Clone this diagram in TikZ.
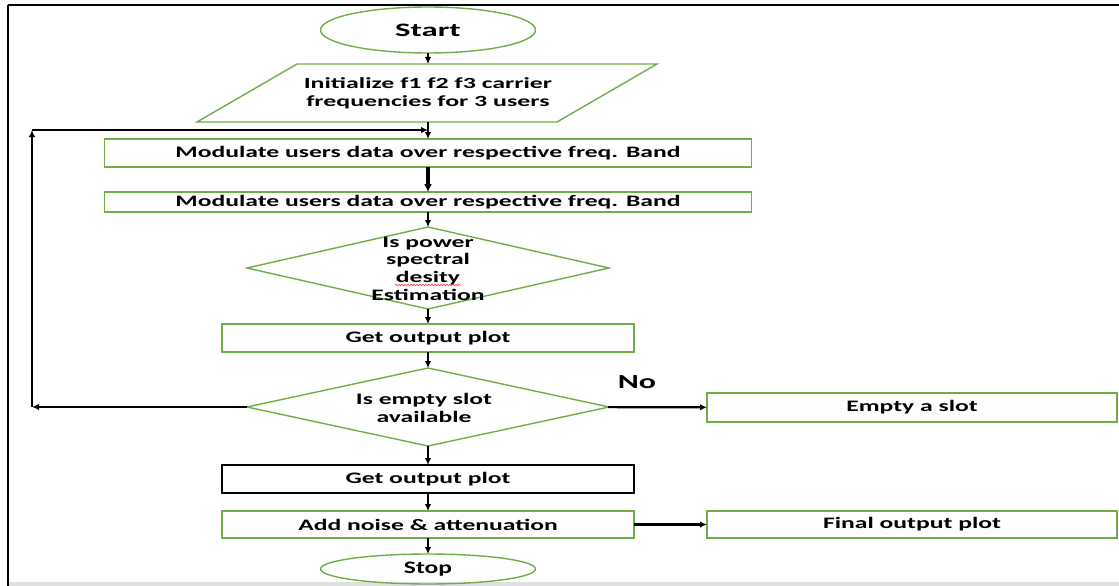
\documentclass[tikz,border=0pt]{standalone}
\usepackage{fontspec}
\usetikzlibrary{shapes.geometric,arrows.meta,decorations.pathmorphing}
% Calibri-metric face, widened for the flowchart labels
\newfontfamily\cbA{Carlito}[FakeStretch=1.6]
\newfontfamily\cbB{Carlito}[FakeStretch=1.67]
\newfontfamily\cbS{Carlito}[FakeStretch=1.72]
\newfontfamily\cbT{Carlito}[FakeStretch=1.46]
\definecolor{boxgreen}{RGB}{112,173,71}
\tikzset{
  every node/.style={inner sep=0pt, outer sep=0pt},
  lbl/.style={font=\cbA\bfseries\fontsize{16}{17.7}\selectfont, align=center},
  gbox/.style={draw=boxgreen, line width=1.4pt, rectangle, lbl},
  kbox/.style={draw=black, line width=1.4pt, rectangle, lbl},
  oval/.style={draw=boxgreen, line width=1.4pt, ellipse},
  decide/.style={draw=boxgreen, line width=1.4pt, diamond},
  arr/.style={-{Latex[length=7pt,width=6.5pt]}, line width=2.1pt, black},
  thickarr/.style={-{Latex[length=8pt,width=8pt]}, line width=3.2pt, black},
}
\begin{document}
\begin{tikzpicture}[x=1pt, y=-1pt]
  \useasboundingbox (0,0) rectangle (1119,586);
  \fill[white] (0,0) rectangle (1119,586);
  % page frame and bottom strip
  \fill[black!12] (9,582) rectangle (1119,586);
  \draw[black, line width=2.2pt] (8,5) -- (1119,5);
  \draw[black, line width=1.8pt] (8,5) -- (8,586);

  % terminals
  \node[oval, minimum width=215pt, minimum height=46pt,
        font=\cbS\bfseries\fontsize{19}{20}\selectfont] (start) at (428,30) {Start};
  \node[oval, minimum width=215pt, minimum height=30pt,
        font=\cbT\bfseries\fontsize{17.5}{18}\selectfont] (stop) at (428,569) {Stop};

  % input parallelogram
  \draw[boxgreen, line width=1.4pt] (297,64) -- (657,64) -- (557,122) -- (197,122) -- cycle;
  \node[minimum height=58pt, align=center,
        font=\cbB\bfseries\fontsize{15.5}{18}\selectfont] (init) at (428,93)
        {Initialize f1 f2 f3 carrier\\frequencies for 3 users};

  % process boxes
  \node[gbox, minimum width=647pt, minimum height=28pt] (mod1) at (428,153)
        {Modulate users data over respective freq. Band};
  \node[gbox, minimum width=647pt, minimum height=20pt] (mod2) at (428,202)
        {Modulate users data over respective freq. Band};

  % first decision
  \node[decide, minimum width=362pt, minimum height=82pt] (psd) at (428,268) {};
  \node[lbl] (psdt) at (428,268.5) {Is power\\spectral\\desity\\Estimation};
  \draw[red!80, line width=0.6pt, decorate,
        decoration={snake, amplitude=0.8pt, segment length=3pt}]
        ([xshift=-33pt,yshift=-17pt]psd.center) -- ([xshift=33pt,yshift=-17pt]psd.center);

  \node[gbox, minimum width=412pt, minimum height=28pt] (plot1) at (428,338) {Get output plot};

  % second decision
  \node[decide, minimum width=362pt, minimum height=78pt] (slot) at (428,407) {};
  \node[lbl] (slott) at (424,408) {Is empty slot\\available};
  \node[font=\cbA\bfseries\fontsize{20}{22}\selectfont] (no) at (637,382) {No};
  \node[gbox, minimum width=410pt, minimum height=29pt] (empty) at (912,407.5) {Empty a slot};

  \node[kbox, minimum width=412pt, minimum height=28pt] (plot2) at (428,479) {Get output plot};
  \node[gbox, minimum width=412pt, minimum height=27pt] (noise) at (428,524.5) {Add noise \& attenuation};
  \node[gbox, minimum width=410pt, minimum height=27pt] (final) at (912,524.5) {Final output plot};

  % main flow
  \draw[arr] (start) -- (init);
  \draw[arr] (init) -- (mod1);
  \draw[thickarr] (mod1) -- (mod2);
  \draw[arr] (mod2) -- (psd);
  \draw[arr] (psd) -- (plot1);
  \draw[arr] (plot1) -- (slot);
  \draw[arr] (slot) -- (empty);
  \draw[arr] (slot) -- (plot2);
  \draw[arr] (plot2) -- (noise);
  \draw[arr] (noise) -- (final);
  \draw[arr] (noise) -- (stop);

  % feedback loop back to modulation
  \coordinate (lc1) at (32,407);
  \coordinate (lc2) at (32,130);
  \coordinate (lj) at (428,130);
  \draw[arr] (slot.west) -- (lc1);
  \draw[arr] (lc1) -- (lc2);
  \draw[arr] (lc2) -- (lj);
\end{tikzpicture}
\end{document}
